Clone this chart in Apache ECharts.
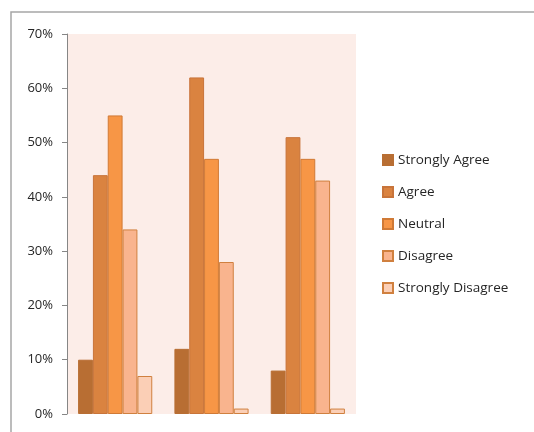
<!DOCTYPE html>
<html>
<head>
<meta charset="utf-8">
<script src="https://cdn.jsdelivr.net/npm/echarts@6/dist/echarts.min.js"></script>
<style>html,body{margin:0;padding:0;background:#fff;}#c{width:534px;height:432px;}</style>
</head>
<body>
<div id="c"></div>
<script>
const categories = ['Group 1', 'Group 2', 'Group 3'];
const seriesNames = ['Strongly Agree', 'Agree', 'Neutral', 'Disagree', 'Strongly Disagree'];
const stronglyAgree = [0.10, 0.12, 0.08];
const agree = [0.44, 0.62, 0.51];
const neutral = [0.55, 0.47, 0.47];
const disagree = [0.34, 0.28, 0.43];
const stronglyDisagree = [0.07, 0.01, 0.01];
const yTicks = [0, 0.1, 0.2, 0.3, 0.4, 0.5, 0.6, 0.7];

const colors = ['#B86E33', '#DA8340', '#F79646', '#F9B48E', '#FBCFB6'];
const borders = ['#B86E33', '#C8743A', '#D07A36', '#D0803F', '#D0803F'];
const values = [stronglyAgree, agree, neutral, disagree, stronglyDisagree];

const chart = echarts.init(document.getElementById('c'), null, {renderer: 'canvas'});
chart.setOption({
  animation: false,
  backgroundColor: '#ffffff',
  textStyle: {fontFamily: 'Open Sans'},
  grid: {left: 67, right: 178, top: 34, bottom: 18, show: true, backgroundColor: '#FCEDE8', borderWidth: 0},
  xAxis: {
    type: 'category', data: categories,
    axisLine: {show: false}, axisTick: {show: false}, axisLabel: {show: false}
  },
  yAxis: {
    type: 'value', min: yTicks[0], max: yTicks[yTicks.length - 1], interval: 0.1,
    axisLine: {show: true, lineStyle: {color: '#868686', width: 1}},
    axisTick: {show: true, length: 5, lineStyle: {color: '#868686'}},
    splitLine: {show: false},
    axisLabel: {margin: 14, color: '#262626', fontSize: 13, fontFamily: 'Open Sans',
      formatter: v => Math.round(v * 100) + '%'}
  },
  legend: {
    orient: 'vertical', left: 382, top: 153, itemGap: 18, padding: 0,
    itemWidth: 10, itemHeight: 10, icon: 'rect',
    textStyle: {color: '#262626', fontSize: 13.5, fontFamily: 'Open Sans', lineHeight: 14},
    data: seriesNames
  },
  series: seriesNames.map((n, i) => ({
    name: n, type: 'bar', data: values[i],
    barGap: 0, barCategoryGap: '23%',
    itemStyle: {color: colors[i], borderColor: borders[i], borderWidth: 1}
  })),
  graphic: [
    {type: 'polyline', shape: {points: [[11, 432], [11, 12], [534, 12]]},
     style: {stroke: '#A6A6A6', lineWidth: 1.5, fill: null}}
  ]
});
</script>
</body>
</html>
